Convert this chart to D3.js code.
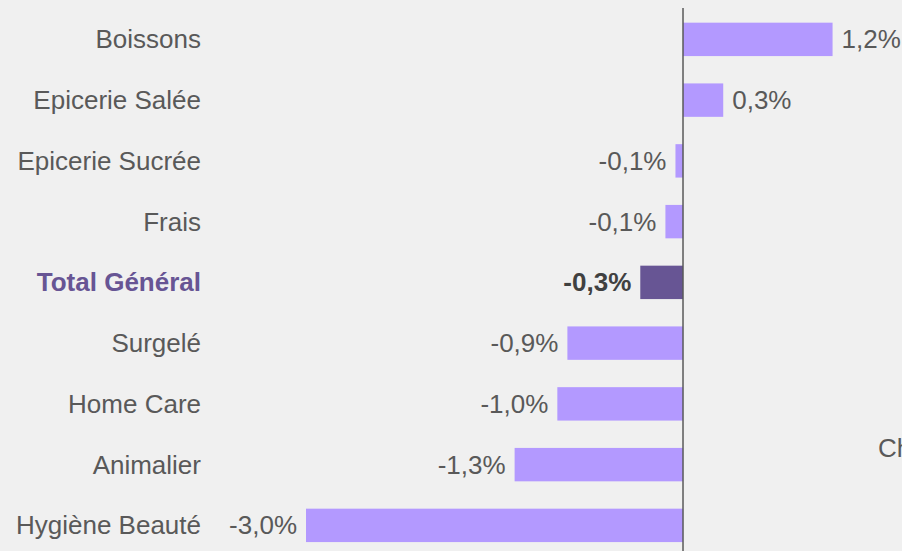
<!DOCTYPE html>
<html>
<head>
<meta charset="utf-8">
<script src="https://cdn.jsdelivr.net/npm/d3@7"></script>
<style>
  html, body { margin: 0; padding: 0; background: #f0f0f0; overflow: hidden; }
  svg { display: block; font-family: "Liberation Sans", Arial, sans-serif; }
</style>
</head>
<body>
<div id="chart"></div>
<script>
// chart data
let categories = ['Boissons', 'Epicerie Salée', 'Epicerie Sucrée', 'Frais', 'Total Général',
                  'Surgelé', 'Home Care', 'Animalier', 'Hygiène Beauté'];
let evolution = [1.19, 0.32, -0.06, -0.14, -0.34, -0.92, -1.0, -1.34, -3.0];
let totalLabel = 'Total Général';

let width = 902, height = 551;
let barColor = '#b399ff',
    totalColor = '#675594',
    textColor = '#595959';

let fr = d3.formatLocale({decimal: ',', thousands: ' ', grouping: [3], currency: ['', '€'], minus: '-'});
let fmt = fr.format('.1f');

let svg = d3.select('#chart').append('svg')
    .attr('width', width)
    .attr('height', height);

svg.append('rect')
    .attr('width', '100%')
    .attr('height', '100%')
    .attr('fill', '#f0f0f0');

let x = d3.scaleLinear()
    .domain([-3, 1.2])
    .range([306, 306 + 4.2 * 125.67]);

let y = d3.scaleBand()
    .domain(categories)
    .range([9, 555.75])
    .paddingInner(0.45)
    .paddingOuter(0.225);

let rows = categories.map(function(c, i){ return {cat: c, val: evolution[i]}; });

// bars
svg.append('g').selectAll('rect')
    .data(rows)
    .enter()
    .append('rect')
    .attr('x', function(d){ return x(Math.min(0, d.val)); })
    .attr('y', function(d){ return y(d.cat); })
    .attr('width', function(d){ return Math.abs(x(d.val) - x(0)); })
    .attr('height', y.bandwidth())
    .attr('fill', function(d){ return d.cat == totalLabel ? totalColor : barColor; });

// zero line
svg.append('line')
    .attr('x1', x(0)).attr('x2', x(0))
    .attr('y1', 8).attr('y2', height)
    .attr('stroke', '#595959')
    .attr('stroke-width', 1.5);

// category labels
svg.append('g').selectAll('text')
    .data(rows)
    .enter()
    .append('text')
    .attr('x', 201)
    .attr('y', function(d){ return y(d.cat) + y.bandwidth() / 2; })
    .attr('dy', '0.35em')
    .attr('text-anchor', 'end')
    .attr('font-size', '26px')
    .attr('font-weight', function(d){ return d.cat == totalLabel ? 'bold' : 'normal'; })
    .attr('fill', function(d){ return d.cat == totalLabel ? totalColor : textColor; })
    .text(function(d){ return d.cat; });

// value labels
svg.append('g').selectAll('text')
    .data(rows)
    .enter()
    .append('text')
    .attr('x', function(d){ return d.val >= 0 ? x(d.val) + 9 : x(d.val) - 9; })
    .attr('y', function(d){ return y(d.cat) + y.bandwidth() / 2; })
    .attr('dy', '0.35em')
    .attr('text-anchor', function(d){ return d.val >= 0 ? 'start' : 'end'; })
    .attr('font-size', '26px')
    .attr('font-weight', function(d){ return d.cat == totalLabel ? 'bold' : 'normal'; })
    .attr('fill', function(d){ return d.cat == totalLabel ? '#404040' : textColor; })
    .text(function(d){ return fmt(d.val) + '%'; });

// title cut by the right edge, as in the reference
svg.append('text')
    .attr('x', 878)
    .attr('y', 448)
    .attr('dy', '0.35em')
    .attr('font-size', '26px')
    .attr('fill', textColor)
    .text('Ch');
</script>
</body>
</html>
